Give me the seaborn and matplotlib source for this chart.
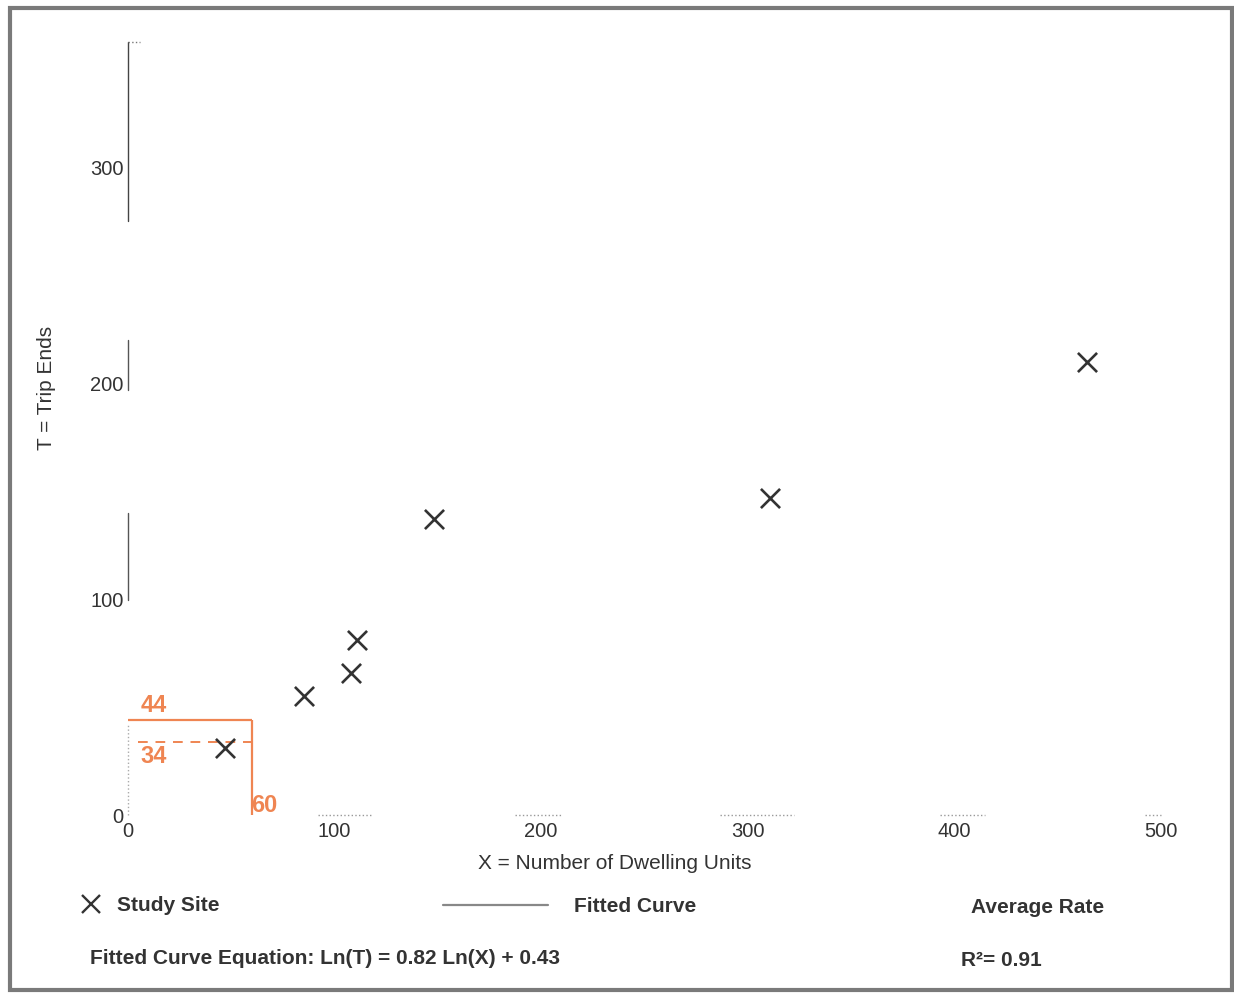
import matplotlib
matplotlib.use("Agg")
import matplotlib.pyplot as plt
import seaborn as sns
import pandas as pd
from matplotlib.patches import Rectangle
from matplotlib.lines import Line2D

# study sites
dwelling_units = [47, 85, 108, 111, 148, 311, 464]
trip_ends = [31, 55, 66, 81, 137, 147, 210]

# average-rate guide for the 60 unit example
example_units = 60
fitted_trips = 44
avg_trips = 34

x_ticks = [0, 100, 200, 300, 400, 500]
y_ticks = [0, 100, 200, 300]

df = pd.DataFrame({"units": dwelling_units, "trips": trip_ends})

sns.set_theme(style="white")
plt.rcParams["font.family"] = ["Liberation Sans", "DejaVu Sans"]

orange = "#EF8552"
ink = "#333333"

fig = plt.figure(figsize=(12.34, 9.94), dpi=100)
ax = fig.add_axes([0.1037, 0.180, 0.8371, 0.7777])

sns.scatterplot(data=df, x="units", y="trips", marker="x", s=190,
                color=ink, linewidth=1.9, ax=ax, legend=False, zorder=4)

ax.set_xlim(0, 500)
ax.set_ylim(0, 358)
for s in ax.spines.values():
    s.set_visible(False)

# broken, faded y axis as in the scan
for lo, hi, ls, c in [(0.768, 1.0, "-", "#444444"), (0.55, 0.614, "-", "#555555"),
                      (0.278, 0.391, "-", "#555555"), (0.0, 0.117, ":", "#aaaaaa")]:
    ax.axvline(0, ymin=lo, ymax=hi, color=c, lw=1.0, ls=ls, clip_on=False)
ax.axhline(358, xmin=0.0, xmax=0.012, color="#777777", lw=1.0, ls=":", clip_on=False)
# faint dotted bits of the x axis near the labels
for lo, hi in [(0.184, 0.235), (0.375, 0.42), (0.573, 0.645), (0.786, 0.83), (0.985, 1.0)]:
    ax.axhline(0, xmin=lo, xmax=hi, color="#999999", lw=1.0, ls=":", clip_on=False)

# orange guide lines
ax.hlines(fitted_trips, 0, example_units, color=orange, lw=1.6)
ax.vlines(example_units, 0, fitted_trips, color=orange, lw=1.6)
ax.hlines(avg_trips, 5, example_units, color=orange, lw=1.4, ls=(0, (5, 4)))
ax.text(6, fitted_trips + 1.5, str(fitted_trips), color=orange, fontsize=17,
        fontweight="bold", ha="left", va="bottom")
ax.text(6, avg_trips - 1.5, str(avg_trips), color=orange, fontsize=17,
        fontweight="bold", ha="left", va="top")
ax.text(example_units - 0.5, -1, str(example_units), color=orange, fontsize=17,
        fontweight="bold", ha="left", va="bottom")

ax.set_xticks(x_ticks)
ax.set_yticks(y_ticks)
ax.set_xticklabels([str(v) for v in x_ticks], fontsize=14.5, color=ink)
ax.set_yticklabels([str(v) for v in y_ticks], fontsize=14.5, color=ink)
ax.tick_params(axis="both", length=0, pad=3)
ax.tick_params(axis="x", pad=5)

ax.set_xlabel("X = Number of Dwelling Units", fontsize=15, color=ink, labelpad=9, x=0.471)
ax.set_ylabel("T = Trip Ends", fontsize=15, color=ink, labelpad=25, y=0.553)

# legend row and equation, placed in figure space
fig.add_artist(Line2D([0.074], [0.091], marker="x", markersize=13, color=ink,
                      markeredgewidth=1.7, transform=fig.transFigure))
fig.text(0.095, 0.089, "Study Site", fontsize=15, fontweight="bold", color=ink, va="center")
fig.add_artist(Line2D([0.359, 0.444], [0.090, 0.090], color="#888888", lw=1.6,
                      transform=fig.transFigure))
fig.text(0.465, 0.088, "Fitted Curve", fontsize=15, fontweight="bold", color=ink, va="center")
fig.text(0.787, 0.087, "Average Rate", fontsize=15, fontweight="bold", color=ink, va="center")
fig.text(0.073, 0.036, "Fitted Curve Equation: Ln(T) = 0.82 Ln(X) + 0.43", fontsize=15,
         fontweight="bold", color=ink, va="center")
fig.text(0.779, 0.034, "R²= 0.91", fontsize=15, fontweight="bold", color=ink, va="center")

# scanned page frame
fig.add_artist(Rectangle((0.008, 0.004), 0.990, 0.988, transform=fig.transFigure,
                         fill=False, edgecolor="#7a7a7a", lw=3.0))

fig.savefig("out.png", dpi=100)
